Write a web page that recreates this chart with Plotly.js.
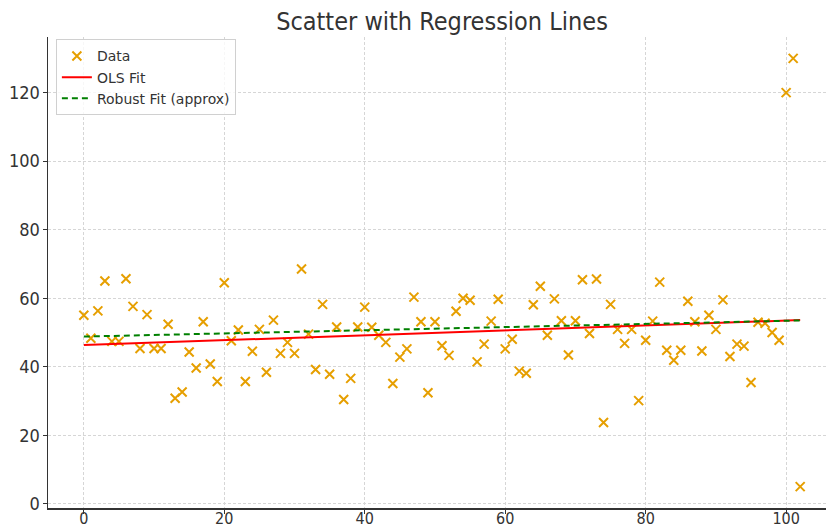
<!DOCTYPE html>
<html>
<head>
<meta charset="utf-8">
<script src="https://cdn.plot.ly/plotly-3.0.1.min.js"></script>
<style>html,body{margin:0;padding:0;overflow:hidden;background:#fff;}#chart{width:836px;height:527px;}</style>
</head>
<body>
<div id="chart"></div>
<script>
const xData = [0,1,2,3,4,5,6,7,8,9,10,11,12,13,14,15,16,17,18,19,20,21,22,23,24,25,26,27,28,29,30,31,32,33,34,35,36,37,38,39,40,41,42,43,44,45,46,47,48,49,50,51,52,53,54,55,56,57,58,59,60,61,62,63,64,65,66,67,68,69,70,71,72,73,74,75,76,77,78,79,80,81,82,83,84,85,86,87,88,89,90,91,92,93,94,95,96,97,98,99,100,101,102];
const yData = [55.0,48.3,56.3,65.0,47.4,47.4,65.7,57.6,45.3,55.2,45.3,45.3,52.4,30.8,32.6,44.3,39.6,53.1,40.8,35.7,64.5,47.6,50.7,35.7,44.5,50.9,38.4,53.6,43.9,47.1,43.9,68.5,49.5,39.2,58.2,37.8,51.6,30.4,36.6,51.6,57.4,51.5,49.2,47.1,35.1,42.8,45.2,60.3,53.1,32.4,53.1,46.1,43.3,56.2,60.0,59.4,41.4,46.6,53.3,59.7,45.2,48.0,38.7,38.1,58.1,63.5,49.2,59.8,53.4,43.4,53.4,65.4,49.7,65.6,23.7,58.2,50.9,46.8,50.9,30.1,47.7,53.3,64.7,44.8,41.9,44.8,59.1,53.1,44.6,55.0,50.9,59.5,43.0,46.6,46.0,35.4,53.0,52.7,50.0,47.7,120.0,130.0,5.0];
const fitX = [0, 102];
const olsY = [46.3, 53.6];
const robustY = [48.8, 53.5];

const traces = [
  {x: xData, y: yData, type: 'scatter', mode: 'markers', name: 'Data',
   marker: {symbol: 'x-thin', size: 9, color: '#E69F00', line: {width: 2, color: '#E69F00'}}},
  {x: fitX, y: olsY, type: 'scatter', mode: 'lines', name: 'OLS Fit',
   line: {color: '#FF0000', width: 2}},
  {x: fitX, y: robustY, type: 'scatter', mode: 'lines', name: 'Robust Fit (approx)',
   line: {color: '#008000', width: 2, dash: '6px,4px'}}
];

const cond = '"DejaVu Sans Condensed", "DejaVu Sans", sans-serif';
const axisCommon = {
  showgrid: true, gridcolor: '#d6d6d6', griddash: '3px,2px', gridwidth: 1,
  zeroline: false, showline: true, linecolor: '#333', linewidth: 1.5,
  ticks: 'outside', ticklen: 4, tickcolor: '#333', tickwidth: 1,
  tickfont: {family: cond, size: 18, color: '#333'}
};

const layout = {
  width: 836, height: 527,
  margin: {l: 48, r: 0, t: 37, b: 19},
  paper_bgcolor: '#fff', plot_bgcolor: '#fff',
  title: {text: 'Scatter with Regression Lines', xref: 'paper', x: 0.5, xanchor: 'center', y: 0.96, yanchor: 'middle',
          font: {family: cond, size: 25, color: '#333'}},
  xaxis: Object.assign({}, axisCommon, {range: [-5.1, 107.1], tickvals: [0,20,40,60,80,100], ticklabelstandoff: -9,
          tickfont: {family: cond, size: 16, color: '#333'}}),
  yaxis: Object.assign({}, axisCommon, {range: [-1.25, 136.25], tickvals: [0,20,40,60,80,100,120], ticklabelstandoff: -1}),
  showlegend: true,
  legend: {x: 0.01, y: 0.995, xanchor: 'left', yanchor: 'top',
           bgcolor: 'rgba(255,255,255,0.8)', bordercolor: '#d0d0d0', borderwidth: 1,
           font: {family: 'DejaVu Sans', size: 14, color: '#333'}, tracegroupgap: 0}
};

Plotly.newPlot('chart', traces, layout, {displayModeBar: false, staticPlot: true});
</script>
</body>
</html>
